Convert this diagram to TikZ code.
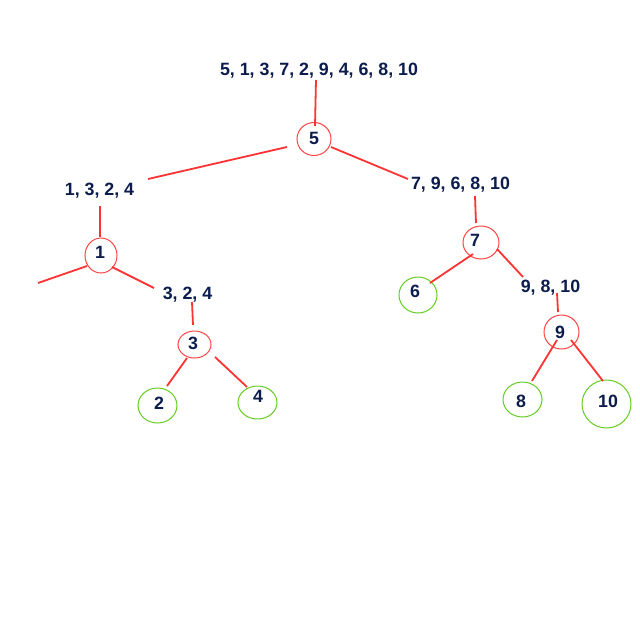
\documentclass[tikz,border=0pt]{standalone}
\usepackage{fontspec}
\setmainfont{Liberation Sans}
\usetikzlibrary{shapes.geometric,calc}
\definecolor{txt}{HTML}{0C1C4C}
\definecolor{edgered}{HTML}{FF3333}
\definecolor{ringred}{HTML}{FF4444}
\definecolor{ringgreen}{HTML}{66CC22}
\begin{document}
\begin{tikzpicture}[x=1pt,y=-1pt,
  lbl/.style={font=\bfseries\fontsize{17.8}{20}\selectfont, text=txt, inner sep=0pt},
  seq/.style={lbl, anchor=base},
  ring/.style={ellipse, draw=ringred, line width=1pt, inner sep=0pt},
  leaf/.style={ellipse, draw=ringgreen, line width=1pt, inner sep=0pt},
  edge/.style={draw=edgered, line width=1.8pt}]
\fill[white] (0,0) rectangle (640,641);
\useasboundingbox (0,0) rectangle (640,641);
% sequence texts
\node[seq] (top) at (319,75) {5, 1, 3, 7, 2, 9, 4, 6, 8, 10};
\node[seq] (t1324) at (99.5,195) {1, 3, 2, 4};
\node[seq] (t324) at (187.5,299) {3, 2, 4};
\node[seq] (t79) at (460.5,189) {7, 9, 6, 8, 10};
\node[seq] (t9810) at (550.5,292) {9, 8, 10};
% rings
\node[ring, minimum width=34pt, minimum height=33pt] (n5) at (314,139) {};
\node[ring, minimum width=32pt, minimum height=35pt] (n1) at (101,255.5) {};
\node[ring, minimum width=33pt, minimum height=27pt] (n3) at (194.5,344.5) {};
\node[ring, minimum width=36pt, minimum height=33pt] (n7) at (481,242.5) {};
\node[ring, minimum width=35pt, minimum height=34pt] (n9) at (561.5,332) {};
\node[leaf, minimum width=39pt, minimum height=35pt] (n2) at (157.5,405.5) {};
\node[leaf, minimum width=39pt, minimum height=33pt] (n4) at (257.5,402.5) {};
\node[leaf, minimum width=38pt, minimum height=36pt] (n6) at (418,295) {};
\node[leaf, minimum width=39pt, minimum height=35pt] (n8) at (522.5,399.5) {};
\node[leaf, minimum width=49pt, minimum height=48pt] (n10) at (606.5,404) {};
% ring labels
\node[lbl] (l5) at (314,138) {5};
\node[lbl] (l1) at (100,252) {1};
\node[lbl] (l3) at (193,343) {3};
\node[lbl] (l2) at (159,403) {2};
\node[lbl] (l4) at (258,396) {4};
\node[lbl] (l7) at (475,240) {7};
\node[lbl] (l6) at (415,291) {6};
\node[lbl] (l9) at (560,332) {9};
\node[lbl] (l8) at (521,401) {8};
\node[lbl] (l10) at (608,401) {10};
\coordinate (c1l) at (38,283);
% connectors
\draw[edge] ($(top.base)+(-3,5)$) -- ($(n5)+(1,-13)$);
\draw[edge] ($(n5)+(-27,8)$) -- ($(t1324.base)+(48.5,-16)$);
\draw[edge] ($(n5)+(17,8)$) -- ($(t79.base)+(-52.5,-10)$);
\draw[edge] ($(t1324.base)+(0.5,11)$) -- ($(n1)+(-1,-18.5)$);
\draw[edge] ($(n1)+(-14,10.5)$) -- (c1l);
\draw[edge] ($(n1)+(11,11.5)$) -- ($(t324.base)+(-33.5,-11)$);
\draw[edge] ($(t324.base)+(4.5,3)$) -- ($(n3)+(-1.5,-19.5)$);
\draw[edge] ($(n3)+(-7.5,13.5)$) -- ($(n2)+(9.5,-19.5)$);
\draw[edge] ($(n3)+(20.5,12.5)$) -- ($(n4)+(-10.5,-15.5)$);
\draw[edge] ($(t79.base)+(14.5,7)$) -- ($(n7)+(-5,-19.5)$);
\draw[edge] ($(n7)+(-8,11.5)$) -- ($(n6)+(12,-12)$);
\draw[edge] ($(n7)+(16,6.5)$) -- ($(t9810.base)+(-27.5,-15)$);
\draw[edge] ($(t9810.base)+(6.5,1)$) -- ($(n9)+(-3.5,-20)$);
\draw[edge] ($(n9)+(-4.5,8)$) -- ($(n8)+(9.5,-18.5)$);
\draw[edge] ($(n9)+(9.5,8)$) -- ($(n10)+(-3.5,-23)$);
\end{tikzpicture}
\end{document}
